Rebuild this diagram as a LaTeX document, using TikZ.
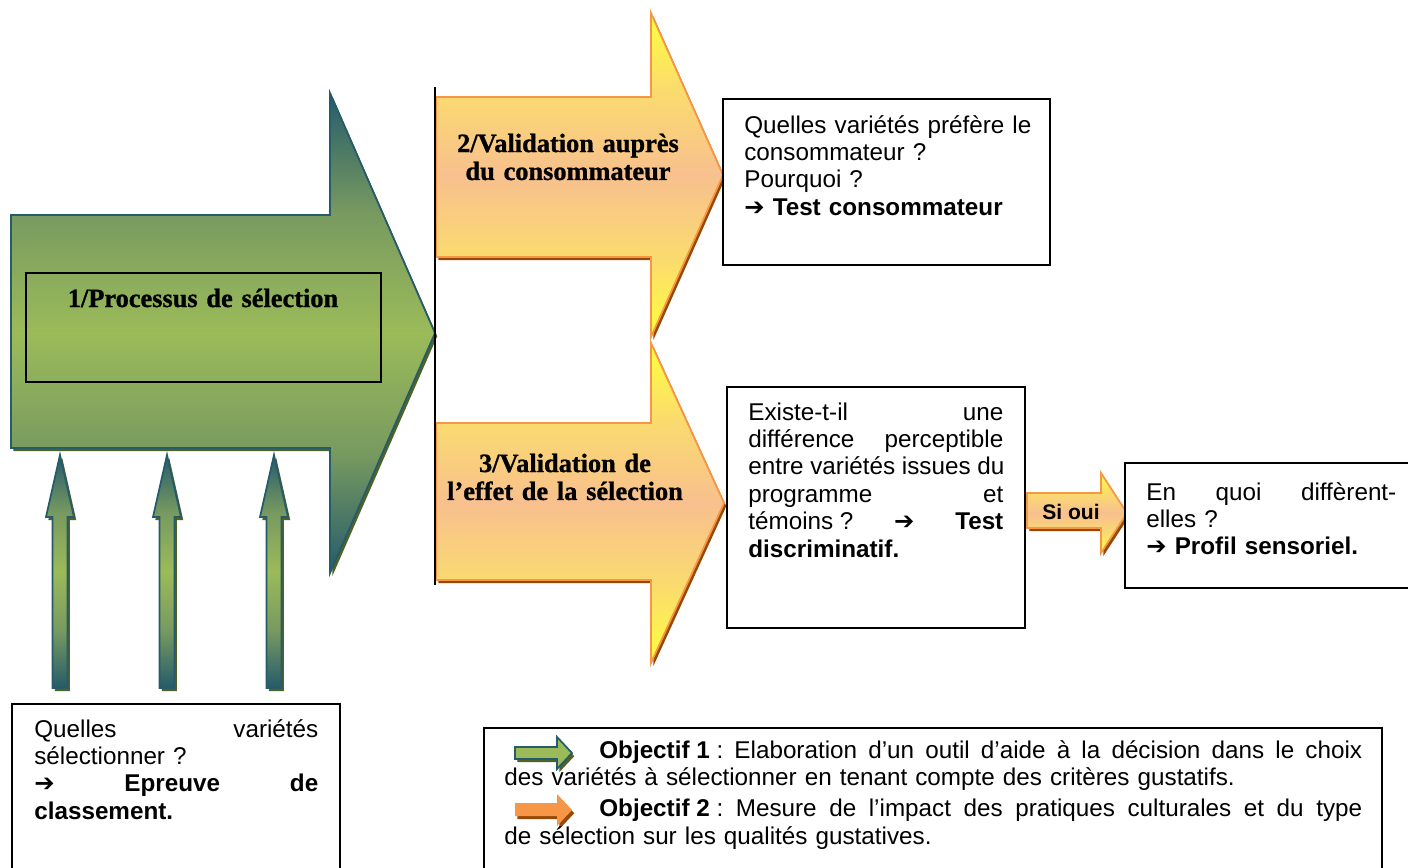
\documentclass[tikz,border=0pt]{standalone}
\usepackage{fontspec}
\setmainfont{Liberation Sans}
\newfontfamily\titrefont{Liberation Serif}[BoldFeatures={FakeBold=1}]
\newfontfamily\symbfont{DejaVu Sans}
\usetikzlibrary{shadows}
\definecolor{vertfonce}{HTML}{255B6A}
\definecolor{vertmoyen}{HTML}{789A60}
\definecolor{vertclair}{HTML}{9BBB59}
\definecolor{vertombre}{HTML}{4F6228}
\definecolor{jaune}{HTML}{FFFF3C}
\definecolor{orangemoyen}{HTML}{FADA70}
\definecolor{peche}{HTML}{F8C08E}
\definecolor{orangeclair}{HTML}{F79646}
\definecolor{orangeombre}{HTML}{984807}
\pgfdeclareverticalshading{degradevert}{100bp}{color(0bp)=(vertfonce); color(25bp)=(vertfonce);
    color(37.5bp)=(vertmoyen); color(50bp)=(vertclair); color(62.5bp)=(vertmoyen);
    color(75bp)=(vertfonce); color(100bp)=(vertfonce)}
\pgfdeclareverticalshading{degradeorange}{100bp}{color(0bp)=(jaune); color(25bp)=(jaune);
    color(37.5bp)=(orangemoyen); color(50bp)=(peche); color(62.5bp)=(orangemoyen);
    color(75bp)=(jaune); color(100bp)=(jaune)}
\newcommand\fl{{\symbfont ➔}}
\newcommand\insec{\hspace{0.278em}}
\newcommand\justifie[2]{\leavevmode\hbox to #1{\spaceskip=\fontdimen2\font plus 1fil\xspaceskip=\spaceskip #2}}
\begin{document}
\begin{tikzpicture}[x=0.02cm, y=-0.02cm,
    ombre/.style={drop shadow={shadow xshift=1.3pt, shadow yshift=-1.8pt, fill=#1, opacity=1}},
    verte/.style={draw=vertfonce, line width=1pt, shading=degradevert, ombre=vertombre},
    orangee/.style={draw=orangeclair, line width=1pt, shading=degradeorange, ombre=orangeombre},
    texte/.style={font=\fontsize{13.8}{15.6}\selectfont, inner sep=0pt, align=left, anchor=base west},
    titre/.style={font=\titrefont\bfseries\fontsize{15}{15.9}\selectfont, inner sep=0pt,
        text width=6cm, align=center, anchor=base},
    boite/.style={draw=black, line width=0.8pt, fill=white}]
    \useasboundingbox (0,0) rectangle (1408,867);
    \clip (0,0) rectangle (1408,867);
    % Processus de sélection
    \path[verte] (11,215) -- (330,215) -- (330,93) -- (435,333) -- (330,573)
        -- (330,448) -- (11,448) -- cycle;
    \draw[line width=0.9pt] (26,273) rectangle (381,382);
    \node[titre] (selection) at (203,307) {1/Processus de sélection};
    % Petites flèches vers le haut
    \foreach \x in {60,167,274}
        \path[verte] (\x-7.5,688) -- (\x-7.5,517) -- (\x-14,517) -- (\x,455)
            -- (\x+14,517) -- (\x+7.5,517) -- (\x+7.5,688) -- cycle;
    % Validations
    \path[orangee] (436,97) -- (651,97) -- (651,13) -- (723,175) -- (651,337)
        -- (651,257) -- (436,257) -- cycle;
    \node[titre] (consommateur) at (568,152) {2/Validation auprès\\du consommateur};
    \path[orangee] (436,423) -- (651,423) -- (651,343) -- (724,503) -- (651,663)
        -- (651,580) -- (436,580) -- cycle;
    \node[titre] (effet) at (565,472) {3/Validation de\\l’effet de la sélection};
    \draw[line width=0.8pt] (435,87) -- (435,585);
    % Si oui
    \path[orangee] (1027,493) -- (1101,493) -- (1101,473) -- (1127,513) -- (1101,553)
        -- (1101,528) -- (1027,528) -- cycle;
    \node[font=\bfseries\fontsize{12}{14}\selectfont, inner sep=0pt] (sioui) at (1071,512) {Si oui};
    % Questions
    \draw[boite] (723,99) rectangle (1050,265);
    \node[texte, text width=6cm] (preference) at (744,133)
        {Quelles variétés préfère le\\consommateur ?\\Pourquoi ?\\\fl{} \textbf{Test consommateur}};
    \draw[boite] (727,387) rectangle (1025,628);
    \node[texte, text width=5.1cm] (difference) at (748,420)
        {\justifie{5.1cm}{Existe-t-il une}\\
         \justifie{5.1cm}{différence perceptible}\\
         \justifie{5.1cm}{entre variétés issues du}\\
         \justifie{5.1cm}{programme et}\\
         \justifie{5.1cm}{témoins\insec? \fl{} \textbf{Test}}\\
         \textbf{discriminatif.}};
    \draw[boite] (1125,463) rectangle (1420,588);
    \node[texte, text width=5cm] (profil) at (1146,500)
        {\justifie{5cm}{En quoi diffèrent-}\\elles ?\\\fl{} \textbf{Profil sensoriel.}};
    \draw[boite] (12,704) rectangle (340,880);
    \node[texte, text width=5.68cm] (classement) at (34,737)
        {\justifie{5.68cm}{Quelles variétés}\\sélectionner ?\\
         \justifie{5.68cm}{\fl{} \textbf{Epreuve de}}\\\textbf{classement.}};
    % Objectifs
    \draw[boite] (484,728) rectangle (1382,880);
    \path[draw=vertfonce, line width=1pt, fill=vertclair, ombre=vertombre]
        (515,747) -- (557,747) -- (557,737) -- (572,753) -- (557,769) -- (557,759)
        -- (515,759) -- cycle;
    \path[fill=orangeclair, ombre=orangeombre]
        (515,803) -- (557,803) -- (557,794) -- (572,810) -- (557,826) -- (557,816)
        -- (515,816) -- cycle;
    \node[texte, text width=17.2cm] (objectifs) at (504,758)
        {\hspace*{1.9cm}\justifie{15.26cm}{\textbf{Objectif\insec1}\insec: Elaboration d’un outil d’aide à la décision dans le choix}\\
         des variétés à sélectionner en tenant compte des critères gustatifs.\\[0.08cm]
         \hspace*{1.9cm}\justifie{15.26cm}{\textbf{Objectif\insec2}\insec: Mesure de l’impact des pratiques culturales et du type}\\
         de sélection sur les qualités gustatives.};
\end{tikzpicture}
\end{document}
